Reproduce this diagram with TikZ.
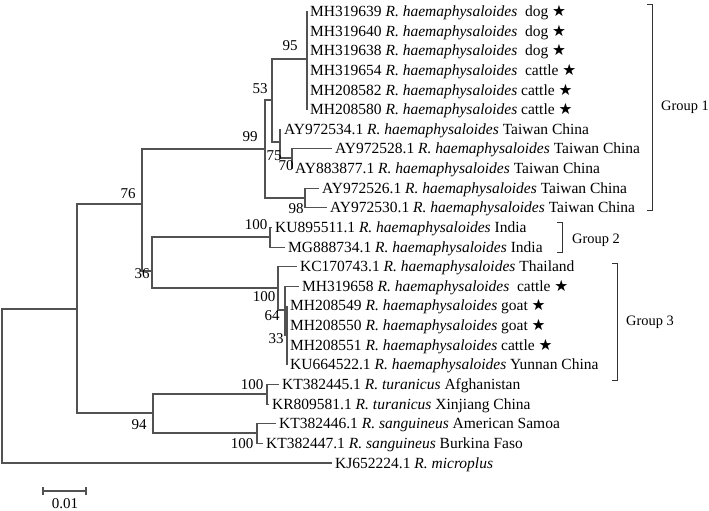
\documentclass[tikz,border=0pt]{standalone}
\usepackage{fontspec}
\setmainfont{Liberation Serif}
\newfontfamily\symfont{DejaVu Sans}
\newcommand\hae{\textit{R. haemaphysaloides}}
\newcommand\mystar{{\symfont\char"2605}}
\begin{document}
\begin{tikzpicture}[x=1pt,y=-1pt,
  br/.style={draw=black!68, line width=1.1pt},
  brk/.style={draw=black!80, line width=0.9pt},
  leaf/.style={anchor=west, inner xsep=3pt, inner ysep=0pt, text height=12pt, text depth=2pt, font=\fontsize{15.5}{18}\selectfont},
  bs/.style={inner sep=0pt, font=\fontsize{15}{18}\selectfont},
  grp/.style={anchor=west, inner sep=0pt, font=\fontsize{14.4}{18}\selectfont}]
\useasboundingbox (0,0) rectangle (709,511);
% internal nodes
\coordinate (root) at (2,386);
\coordinate (nA) at (77,309);
\coordinate (nB) at (142,204);
\coordinate (n99) at (265,149);
\coordinate (n53) at (272,100);
\coordinate (n95) at (307,59);
\coordinate (n75) at (280,142);
\coordinate (n70) at (292,158);
\coordinate (n98) at (305,198);
\coordinate (n36) at (152,271);
\coordinate (nG2) at (270,237);
\coordinate (nG3) at (278,288);
\coordinate (n64) at (285,310);
\coordinate (n33) at (287,335);
\coordinate (n94) at (153,413);
\coordinate (nTu) at (267,394);
\coordinate (nSa) at (257,433);
% leaves
\node[leaf] (L1) at (307,11.5) {MH319639 \hae\ \ dog \mystar};
\node[leaf] (L2) at (307,31.1) {MH319640 \hae\ \ dog \mystar};
\node[leaf] (L3) at (307,50.8) {MH319638 \hae\ \ dog \mystar};
\node[leaf] (L4) at (307,70.4) {MH319654 \hae\ \ cattle \mystar};
\node[leaf] (L5) at (307,90.0) {MH208582 \hae\ cattle \mystar};
\node[leaf] (L6) at (307,109.7) {MH208580 \hae\ cattle \mystar};
\node[leaf] (L7) at (281,129.3) {AY972534.1 \hae\ Taiwan China};
\node[leaf] (L8) at (332,148.9) {AY972528.1 \hae\ Taiwan China};
\node[leaf] (L9) at (292,168.5) {AY883877.1 \hae\ Taiwan China};
\node[leaf] (L10) at (319,188.2) {AY972526.1 \hae\ Taiwan China};
\node[leaf] (L11) at (327,207.8) {AY972530.1 \hae\ Taiwan China};
\node[leaf] (L12) at (272,227.4) {KU895511.1 \hae\ India};
\node[leaf] (L13) at (285,247.1) {MG888734.1 \hae\ India};
\node[leaf] (L14) at (297,266.7) {KC170743.1 \hae\ Thailand};
\node[leaf] (L15) at (299,286.3) {MH319658 \hae\ \ cattle \mystar};
\node[leaf] (L16) at (287,305.9) {MH208549 \hae\ goat \mystar};
\node[leaf] (L17) at (287,325.6) {MH208550 \hae\ goat \mystar};
\node[leaf] (L18) at (287,345.2) {MH208551 \hae\ cattle \mystar};
\node[leaf] (L19) at (287,364.8) {KU664522.1 \hae\ Yunnan China};
\node[leaf] (L20) at (279,384.5) {KT382445.1 \textit{R. turanicus} Afghanistan};
\node[leaf] (L21) at (269,404.1) {KR809581.1 \textit{R. turanicus} Xinjiang China};
\node[leaf] (L22) at (276,423.7) {KT382446.1 \textit{R. sanguineus} American Samoa};
\node[leaf] (L23) at (263,443.3) {KT382447.1 \textit{R. sanguineus} Burkina Faso};
\node[leaf] (L24) at (332,463.0) {KJ652224.1 \textit{R. microplus}};
% branches
\draw[br] (root) |- (nA);
\draw[br] (root) |- (L24.west);
\draw[br] (nA) |- (nB);
\draw[br] (nA) |- (n94);
\draw[br] (nB) |- (n99);
\draw[br] (nB) |- (n36);
\draw[br] (n99) |- (n53);
\draw[br] (n99) |- (n98);
\draw[br] (n53) |- (n95);
\draw[br] (n53) |- (n75);
\draw[br] (L1.west) -- (L6.west);
\draw[br] (n75) |- (L7.west);
\draw[br] (n75) |- (n70);
\draw[br] (n70) |- (L8.west);
\draw[br] (n70) |- (L9.west);
\draw[br] (n98) |- (L10.west);
\draw[br] (n98) |- (L11.west);
\draw[br] (n36) |- (nG2);
\draw[br] (n36) |- (nG3);
\draw[br] (nG2) |- (L12.west);
\draw[br] (nG2) |- (L13.west);
\draw[br] (nG3) |- (L14.west);
\draw[br] (nG3) |- (n64);
\draw[br] (n64) |- (L15.west);
\draw[br] (n64) |- (n33);
\draw[br] (L16.west) -- (L19.west);
\draw[br] (n94) |- (nTu);
\draw[br] (n94) |- (nSa);
\draw[br] (nTu) |- (L20.west);
\draw[br] (nTu) |- (L21.west);
\draw[br] (nSa) |- (L22.west);
\draw[br] (nSa) |- (L23.west);
% bootstrap values
\node[bs] (b95) at (290,46) {95};
\node[bs] (b53) at (260,89) {53};
\node[bs] (b99) at (250,137) {99};
\node[bs] (b76) at (128,194) {76};
\node[bs] (b75) at (274,156) {75};
\node[bs] (b70) at (286,166) {70};
\node[bs] (b98) at (296,209) {98};
\node[bs] (bG2) at (256,225) {100};
\node[bs] (b36) at (142,274) {36};
\node[bs] (bG3) at (264,297) {100};
\node[bs] (b64) at (272,316) {64};
\node[bs] (b33) at (276,339) {33};
\node[bs] (bTu) at (252,385) {100};
\node[bs] (b94) at (139,425) {94};
\node[bs] (bSa) at (242,444) {100};
% group brackets
\draw[brk] (647,4) -- (652,4) -- (652,210) -- (647,210);
\node[grp] (g1) at (661,107) {Group 1};
\draw[brk] (557,222) -- (562,222) -- (562,252) -- (557,252);
\node[grp] (g2) at (572,240) {Group 2};
\draw[brk] (612,263) -- (617,263) -- (617,380) -- (612,380);
\node[grp] (g3) at (626,322) {Group 3};
% scale bar
\draw[br] (43,487) -- (43,495) (43,491) -- (86,491) (86,487) -- (86,495);
\node[bs] (sc) at (65,503.5) {0.01};
\end{tikzpicture}
\end{document}
